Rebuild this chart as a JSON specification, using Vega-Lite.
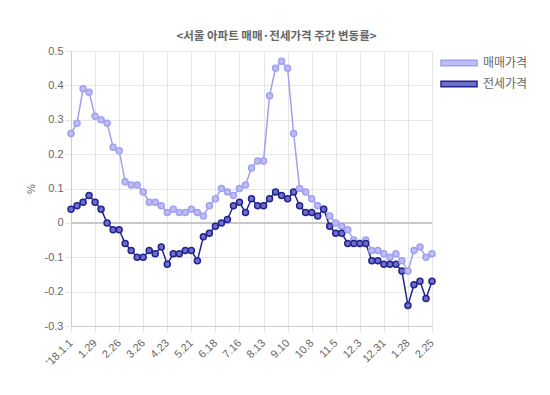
{
  "$schema": "https://vega.github.io/schema/vega-lite/v6.json",
  "width": 361,
  "height": 275,
  "autosize": "none",
  "padding": {"left": 71, "top": 51, "right": 118, "bottom": 69},
  "background": "white",
  "title": {
    "text": "<서울 아파트 매매·전세가격 주간 변동률>",
    "font": "Noto Sans CJK KR",
    "fontSize": 11.5,
    "fontWeight": "bold",
    "color": "#666666",
    "anchor": "middle",
    "dx": 25,
    "offset": 3
  },
  "config": {
    "view": {"stroke": null},
    "axis": {
      "labelColor": "#666666",
      "labelFont": "Liberation Sans",
      "labelFontSize": 11,
      "gridColor": "#e6e6e6",
      "tickColor": "#e6e6e6",
      "domainColor": "#cccccc",
      "titleColor": "#666666",
      "titleFont": "Liberation Sans",
      "titleFontWeight": "normal",
      "titleFontSize": 11
    }
  },
  "data": {
    "values": [
      {"date": "'18.1.1", "매매가격": 0.26, "전세가격": 0.04},
      {"date": "1.8", "매매가격": 0.29, "전세가격": 0.05},
      {"date": "1.15", "매매가격": 0.39, "전세가격": 0.06},
      {"date": "1.22", "매매가격": 0.38, "전세가격": 0.08},
      {"date": "1.29", "매매가격": 0.31, "전세가격": 0.06},
      {"date": "2.5", "매매가격": 0.30, "전세가격": 0.04},
      {"date": "2.12", "매매가격": 0.29, "전세가격": 0.00},
      {"date": "2.19", "매매가격": 0.22, "전세가격": -0.02},
      {"date": "2.26", "매매가격": 0.21, "전세가격": -0.02},
      {"date": "3.5", "매매가격": 0.12, "전세가격": -0.06},
      {"date": "3.12", "매매가격": 0.11, "전세가격": -0.08},
      {"date": "3.19", "매매가격": 0.11, "전세가격": -0.10},
      {"date": "3.26", "매매가격": 0.09, "전세가격": -0.10},
      {"date": "4.2", "매매가격": 0.06, "전세가격": -0.08},
      {"date": "4.9", "매매가격": 0.06, "전세가격": -0.09},
      {"date": "4.16", "매매가격": 0.05, "전세가격": -0.07},
      {"date": "4.23", "매매가격": 0.03, "전세가격": -0.12},
      {"date": "4.30", "매매가격": 0.04, "전세가격": -0.09},
      {"date": "5.7", "매매가격": 0.03, "전세가격": -0.09},
      {"date": "5.14", "매매가격": 0.03, "전세가격": -0.08},
      {"date": "5.21", "매매가격": 0.04, "전세가격": -0.08},
      {"date": "5.28", "매매가격": 0.03, "전세가격": -0.11},
      {"date": "6.4", "매매가격": 0.02, "전세가격": -0.04},
      {"date": "6.11", "매매가격": 0.05, "전세가격": -0.03},
      {"date": "6.18", "매매가격": 0.07, "전세가격": -0.01},
      {"date": "6.25", "매매가격": 0.10, "전세가격": 0.00},
      {"date": "7.2", "매매가격": 0.09, "전세가격": 0.01},
      {"date": "7.9", "매매가격": 0.08, "전세가격": 0.05},
      {"date": "7.16", "매매가격": 0.10, "전세가격": 0.06},
      {"date": "7.23", "매매가격": 0.11, "전세가격": 0.03},
      {"date": "7.30", "매매가격": 0.16, "전세가격": 0.07},
      {"date": "8.6", "매매가격": 0.18, "전세가격": 0.05},
      {"date": "8.13", "매매가격": 0.18, "전세가격": 0.05},
      {"date": "8.20", "매매가격": 0.37, "전세가격": 0.07},
      {"date": "8.27", "매매가격": 0.45, "전세가격": 0.09},
      {"date": "9.3", "매매가격": 0.47, "전세가격": 0.08},
      {"date": "9.10", "매매가격": 0.45, "전세가격": 0.07},
      {"date": "9.17", "매매가격": 0.26, "전세가격": 0.09},
      {"date": "9.24", "매매가격": 0.10, "전세가격": 0.05},
      {"date": "10.1", "매매가격": 0.09, "전세가격": 0.03},
      {"date": "10.8", "매매가격": 0.07, "전세가격": 0.03},
      {"date": "10.15", "매매가격": 0.05, "전세가격": 0.02},
      {"date": "10.22", "매매가격": 0.04, "전세가격": 0.04},
      {"date": "10.29", "매매가격": 0.02, "전세가격": -0.01},
      {"date": "11.5", "매매가격": 0.00, "전세가격": -0.03},
      {"date": "11.12", "매매가격": -0.01, "전세가격": -0.03},
      {"date": "11.19", "매매가격": -0.02, "전세가격": -0.06},
      {"date": "11.26", "매매가격": -0.05, "전세가격": -0.06},
      {"date": "12.3", "매매가격": -0.06, "전세가격": -0.06},
      {"date": "12.10", "매매가격": -0.05, "전세가격": -0.06},
      {"date": "12.17", "매매가격": -0.08, "전세가격": -0.11},
      {"date": "12.24", "매매가격": -0.08, "전세가격": -0.11},
      {"date": "12.31", "매매가격": -0.09, "전세가격": -0.12},
      {"date": "1.7", "매매가격": -0.10, "전세가격": -0.12},
      {"date": "1.14", "매매가격": -0.09, "전세가격": -0.12},
      {"date": "1.21", "매매가격": -0.11, "전세가격": -0.14},
      {"date": "1.28", "매매가격": -0.14, "전세가격": -0.24},
      {"date": "2.4", "매매가격": -0.08, "전세가격": -0.18},
      {"date": "2.11", "매매가격": -0.07, "전세가격": -0.17},
      {"date": "2.18", "매매가격": -0.10, "전세가격": -0.22},
      {"date": "2.25", "매매가격": -0.09, "전세가격": -0.17}
    ]
  },
  "transform": [{"fold": ["매매가격", "전세가격"], "as": ["series", "value"]}],
  "encoding": {
    "x": {
      "field": "date",
      "type": "ordinal",
      "sort": null,
      "scale": {"type": "point", "padding": 0},
      "axis": {
        "title": null,
        "values": ["'18.1.1", "1.29", "2.26", "3.26", "4.23", "5.21", "6.18", "7.16", "8.13", "9.10", "10.8", "11.5", "12.3", "12.31", "1.28", "2.25"],
        "grid": true,
        "labelAngle": -45,
        "labelAlign": "right",
        "labelBaseline": "middle",
        "tickSize": 6,
        "labelPadding": 9
      }
    },
    "y": {
      "field": "value",
      "type": "quantitative",
      "scale": {"domain": [-0.3, 0.5], "nice": false, "zero": false},
      "axis": {
        "title": "%",
        "values": [-0.3, -0.2, -0.1, 0, 0.1, 0.2, 0.3, 0.4, 0.5],
        "labelExpr": "'' + round(datum.value * 10) / 10",
        "grid": true,
        "tickSize": 6,
        "labelPadding": 2,
        "titlePadding": 8
      }
    }
  },
  "layer": [
    {
      "mark": {"type": "rule", "color": "#c8c8c8", "strokeWidth": 1},
      "encoding": {"x": null, "y": {"datum": 0}}
    },
    {
      "mark": {"type": "line", "strokeWidth": 1.5},
      "encoding": {
        "stroke": {
          "field": "series",
          "type": "nominal",
          "scale": {"domain": ["매매가격", "전세가격"], "range": ["#a0a0ef", "#23238e"]}
        }
      }
    },
    {
      "mark": {"type": "point", "filled": true, "size": 36, "strokeWidth": 1.5, "opacity": 1},
      "encoding": {
        "fill": {
          "field": "series",
          "type": "nominal",
          "scale": {"domain": ["매매가격", "전세가격"], "range": ["#bdbdf7", "#6e6ecb"]},
          "legend": {
            "title": null,
            "orient": "none",
            "legendX": 377,
            "legendY": 1,
            "padding": 0,
            "symbolType": "M-1.8,-0.28H1.8V0.28H-1.8Z",
            "symbolSize": 400,
            "symbolStrokeWidth": 1.5,
            "symbolOpacity": 1,
            "labelFont": "Noto Sans CJK KR",
            "labelFontSize": 12,
            "labelColor": "#666666",
            "labelOffset": 13,
            "rowPadding": 4
          }
        },
        "stroke": {
          "field": "series",
          "type": "nominal",
          "scale": {"domain": ["매매가격", "전세가격"], "range": ["#a0a0ef", "#23238e"]},
          "legend": {
            "title": null,
            "orient": "none",
            "legendX": 377,
            "legendY": 1,
            "padding": 0,
            "symbolType": "M-1.8,-0.28H1.8V0.28H-1.8Z",
            "symbolSize": 400,
            "symbolStrokeWidth": 1.5,
            "symbolOpacity": 1,
            "labelFont": "Noto Sans CJK KR",
            "labelFontSize": 12,
            "labelColor": "#666666",
            "labelOffset": 13,
            "rowPadding": 4
          }
        }
      }
    }
  ]
}
